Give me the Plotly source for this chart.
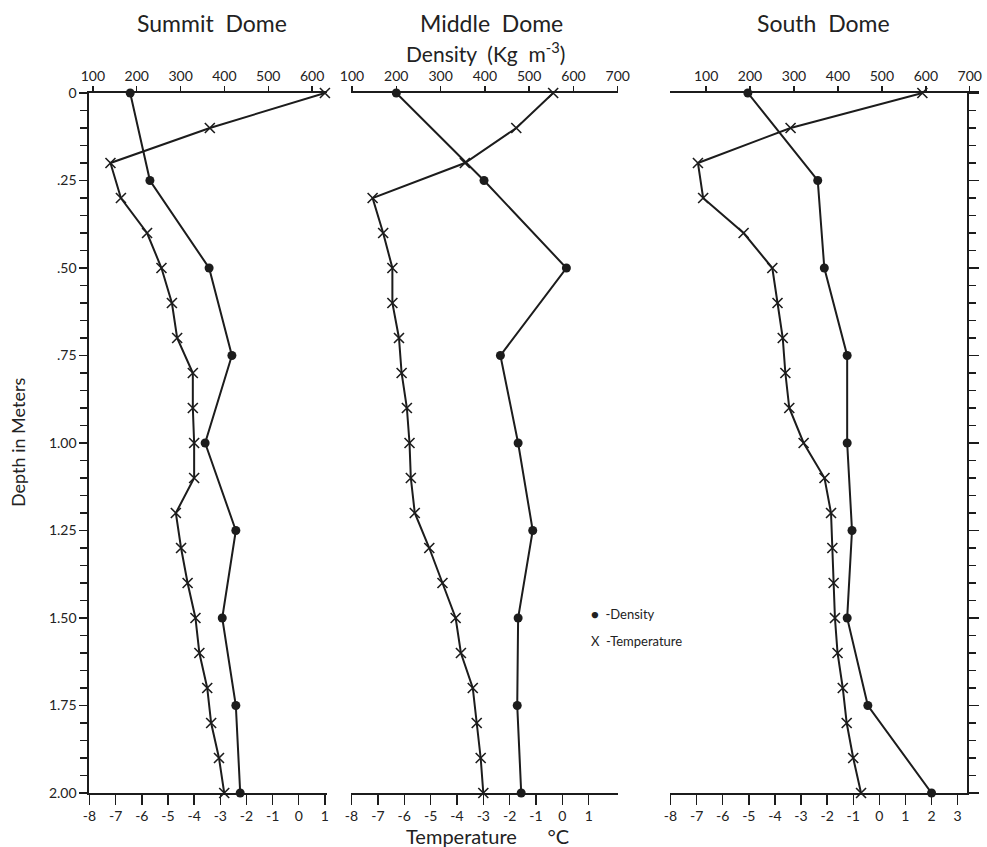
import plotly.graph_objects as go

W, H = 987, 847
def fx(p): return p / W
def fy(p): return 1 - p / H

# ---------------- data ----------------
depth_temp = [0.0, 0.1, 0.2, 0.3, 0.4, 0.5, 0.6, 0.7, 0.8, 0.9, 1.0,
              1.1, 1.2, 1.3, 1.4, 1.5, 1.6, 1.7, 1.8, 1.9, 2.0]
depth_dens = [0.0, 0.25, 0.50, 0.75, 1.00, 1.25, 1.50, 1.75, 2.00]

summit_temp = [1.0, -3.4, -7.2, -6.8, -5.8, -5.25, -4.85, -4.65, -4.05, -4.05, -4.0,
               -4.0, -4.7, -4.5, -4.25, -3.95, -3.8, -3.5, -3.35, -3.05, -2.85]
summit_dens = [185, 230, 365, 417, 356, 426, 395, 426, 436]

middle_temp = [-0.35, -1.75, -3.7, -7.2, -6.8, -6.45, -6.45, -6.2, -6.1, -5.9, -5.8,
               -5.75, -5.6, -5.05, -4.55, -4.05, -3.85, -3.4, -3.25, -3.1, -3.0]
middle_dens = [200, 398, 584, 435, 475, 508, 475, 473, 482]

south_temp = [1.65, -3.4, -6.95, -6.75, -5.2, -4.1, -3.9, -3.7, -3.6, -3.45, -2.9,
              -2.1, -1.85, -1.8, -1.75, -1.7, -1.6, -1.4, -1.25, -1.0, -0.7]
south_dens = [195, 354, 369, 421, 421, 432, 421, 468, 613]

panel_titles = ["Summit  Dome", "Middle  Dome", "South  Dome"]
summit_temp_ticks = [-8, -7, -6, -5, -4, -3, -2, -1, 0, 1]
middle_temp_ticks = [-8, -7, -6, -5, -4, -3, -2, -1, 0, 1]
south_temp_ticks = [-8, -7, -6, -5, -4, -3, -2, -1, 0, 1, 2, 3]
summit_dens_ticks = [100, 200, 300, 400, 500, 600]
middle_dens_ticks = [100, 200, 300, 400, 500, 600, 700]
south_dens_ticks = [100, 200, 300, 400, 500, 600, 700]
depth_ticks = [0, 0.25, 0.50, 0.75, 1.00, 1.25, 1.50, 1.75, 2.00]
depth_labels = ["0", ".25", ".50", ".75", "1.00", "1.25", "1.50", "1.75", "2.00"]

# ---------------- styling ----------------
INK = "#1c1c1c"
TXT = "#222222"
FONT = "Lato"

# tdom: temperature-axis box (pixels); ddom: density-axis extent (pixels)
panels = [
    dict(temp=summit_temp, dens=summit_dens, tdom=(89, 327), ddom=(89, 327),
         trange=[-8.02, 1.08], drange=[91, 634], dover=True,
         tt=summit_temp_ticks, dt=summit_dens_ticks, tx=212, yside="left", yshow=True),
    dict(temp=middle_temp, dens=middle_dens, tdom=(351, 618), ddom=(351, 618),
         trange=[-8.02, 2.11], drange=[97.7, 700.5], dover=True,
         tt=middle_temp_ticks, dt=middle_dens_ticks, tx=491, yside="left", yshow=False),
    dict(temp=south_temp, dens=south_dens, tdom=(670, 967), ddom=(670, 979),
         trange=[-8.02, 3.36], drange=[17.8, 721], dover=False,
         tt=south_temp_ticks, dt=south_dens_ticks, tx=823, yside="right", yshow=True),
]

fig = go.Figure()
layout = {}
ydom = [fy(793), fy(93)]

def xname(n): return "xaxis" if n == 1 else f"xaxis{n}"
def xref(n): return "x" if n == 1 else f"x{n}"
def yname(n): return "yaxis" if n == 1 else f"yaxis{n}"
def yref(n): return "y" if n == 1 else f"y{n}"

tickfont = dict(family=FONT, size=14, color=TXT)
minor_depth = [round(k * 0.05, 2) for k in range(41)]

for i, p in enumerate(panels):
    a = 4 * i + 1
    b, c, d = a + 1, a + 2, a + 3
    yi = i + 1
    tdom = [fx(p["tdom"][0]), fx(p["tdom"][1])]
    ddom = [fx(p["ddom"][0]), fx(p["ddom"][1])]
    common = dict(showgrid=False, zeroline=False, fixedrange=True, automargin=False,
                  tickcolor=INK, tickwidth=1.4, linecolor=INK, linewidth=1.6)
    layout[xname(a)] = dict(domain=tdom, range=p["trange"], anchor=yref(yi), side="bottom",
                            showline=True, ticks="outside", ticklen=10,
                            tickmode="array", tickvals=p["tt"],
                            ticktext=[str(v) for v in p["tt"]],
                            tickfont=tickfont, **common)
    dens_top = dict(domain=ddom, range=p["drange"], anchor=yref(yi),
                    side="top", showline=True, ticks="outside", ticklen=5,
                    tickmode="array", tickvals=p["dt"],
                    ticktext=[str(v) for v in p["dt"]],
                    tickfont=tickfont, **common)
    dens_bot = dict(domain=ddom, range=p["drange"], anchor=yref(yi),
                    side="bottom", showline=not p["dover"], ticks="inside", ticklen=5,
                    tickmode="array", tickvals=p["dt"], showticklabels=False,
                    **common)
    if p["dover"]:
        dens_top["overlaying"] = xref(a)
        dens_bot["overlaying"] = xref(a)
    else:
        dens_bot["overlaying"] = xref(b)
    layout[xname(b)] = dens_top
    layout[xname(d)] = dens_bot
    layout[xname(c)] = dict(domain=tdom, overlaying=xref(a), range=p["trange"], anchor=yref(yi),
                            side="top", showline=False, ticks="inside", ticklen=8,
                            tickmode="array", tickvals=p["tt"], showticklabels=False,
                            **common)

    ycommon = dict(domain=ydom, range=[2, 0], anchor=xref(a), side=p["yside"],
                   showgrid=False, zeroline=False, fixedrange=True, automargin=False)
    if p["yshow"]:
        layout[yname(yi)] = dict(showline=True, linecolor=INK, linewidth=1.6,
                                 ticks="outside", ticklen=8 if i == 0 else 10,
                                 tickwidth=1.4, tickcolor=INK,
                                 tickmode="array", tickvals=depth_ticks,
                                 ticktext=depth_labels, showticklabels=(i == 0),
                                 tickfont=tickfont,
                                 minor=dict(tickmode="array", tickvals=minor_depth,
                                            ticks="outside", ticklen=7, tickwidth=1.2,
                                            tickcolor=INK, showgrid=False),
                                 **ycommon)
    else:
        layout[yname(yi)] = dict(showline=False, showticklabels=False, ticks="", **ycommon)

    fig.add_trace(go.Scatter(x=p["temp"], y=depth_temp, xaxis=xref(a), yaxis=yref(yi),
                             mode="lines+markers", cliponaxis=False, showlegend=False,
                             line=dict(color=INK, width=2),
                             marker=dict(symbol="x-thin", size=10,
                                         line=dict(color=INK, width=1.6))))
    fig.add_trace(go.Scatter(x=p["dens"], y=depth_dens, xaxis=xref(b), yaxis=yref(yi),
                             mode="lines+markers", cliponaxis=False, showlegend=False,
                             line=dict(color=INK, width=2),
                             marker=dict(symbol="circle", size=9, color=INK)))

annotations = []
for p, t in zip(panels, panel_titles):
    annotations.append(dict(text=t, x=fx(p["tx"]), y=fy(23), xref="paper", yref="paper",
                            showarrow=False, xanchor="center", yanchor="middle",
                            font=dict(family=FONT, size=23, color=TXT)))
annotations.append(dict(text="Density  (Kg  m<sup>-3</sup>)", x=fx(485), y=fy(52),
                        xref="paper", yref="paper", showarrow=False,
                        xanchor="center", yanchor="middle",
                        font=dict(family=FONT, size=21, color=TXT)))
annotations.append(dict(text="Temperature      °C", x=fx(487), y=fy(836),
                        xref="paper", yref="paper", showarrow=False,
                        xanchor="center", yanchor="middle",
                        font=dict(family=FONT, size=20, color=TXT)))
annotations.append(dict(text="Depth in Meters", x=fx(18), y=fy(443), textangle=-90,
                        xref="paper", yref="paper", showarrow=False,
                        xanchor="center", yanchor="middle",
                        font=dict(family=FONT, size=18, color=TXT)))
annotations.append(dict(text="●  -Density", x=fx(589), y=fy(614),
                        xref="paper", yref="paper", showarrow=False,
                        xanchor="left", yanchor="middle",
                        font=dict(family=FONT, size=13, color=TXT)))
annotations.append(dict(text="X  -Temperature", x=fx(589), y=fy(641),
                        xref="paper", yref="paper", showarrow=False,
                        xanchor="left", yanchor="middle",
                        font=dict(family=FONT, size=13, color=TXT)))

fig.update_layout(width=W, height=H, margin=dict(l=0, r=0, t=0, b=0, pad=0),
                  autosize=False,
                  paper_bgcolor="white", plot_bgcolor="rgba(0,0,0,0)",
                  showlegend=False, annotations=annotations, **layout)

fig.write_html("out.html", config={"displayModeBar": False, "staticPlot": True},
               post_script="document.body.style.margin='0px';"
                           "document.body.style.overflow='hidden';")
